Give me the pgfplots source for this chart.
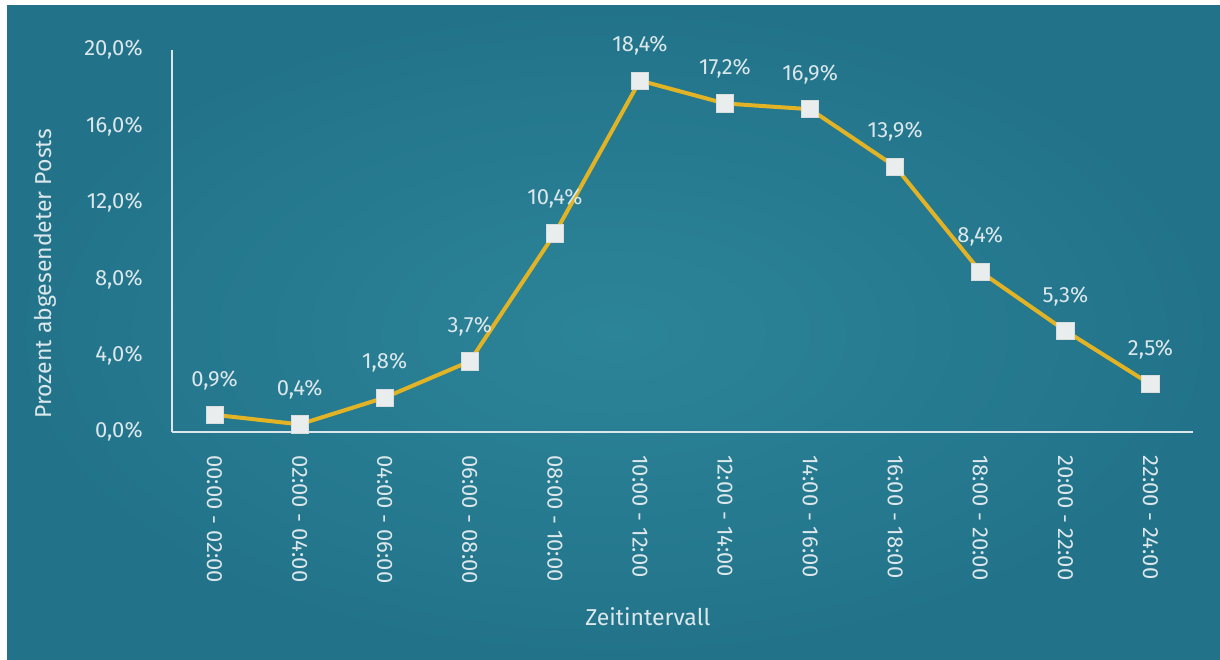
\documentclass[border=0pt]{standalone}
\usepackage{fontspec}
\setmainfont{Fira Sans}
\usepackage{pgfplots}
\pgfplotsset{compat=1.18}
\usepackage{pgfplotstable}

\definecolor{bgmid}{HTML}{2C8498}
\definecolor{bgedge}{HTML}{22738A}
\definecolor{linegold}{HTML}{E2B324}
\definecolor{txt}{HTML}{DCE7EB}
\definecolor{mk}{HTML}{EAEDED}

% Anteil abgesendeter Posts je 2-Stunden-Intervall
\pgfplotstableread{
x  y
0  0.9
1  0.4
2  1.8
3  3.7
4  10.4
5  18.4
6  17.2
7  16.9
8  13.9
9  8.4
10 5.3
11 2.5
}\posts

\begin{document}
\begin{tikzpicture}
% background: white strip top/left, teal panel
\fill[white] (0,0) rectangle (610pt,329.5pt);
\shade[inner color=bgmid, outer color=bgedge] (3.5pt,0) rectangle (610pt,326.5pt);
\useasboundingbox (0,0) rectangle (610pt,329.5pt);
\begin{axis}[
    at={(86pt,113.5pt)},
    anchor=south west,
    scale only axis,
    width=510.5pt,
    height=191pt,
    xmin=-0.5, xmax=11.5,
    ymin=0, ymax=20,
    clip=false,
    axis lines=left,
    axis line style={txt, line width=1pt, -},
    major tick style={draw=none},
    xtick={0,...,11},
    xticklabels={00:00 - 02:00, 02:00 - 04:00, 04:00 - 06:00, 06:00 - 08:00,
                 08:00 - 10:00, 10:00 - 12:00, 12:00 - 14:00, 14:00 - 16:00,
                 16:00 - 18:00, 18:00 - 20:00, 20:00 - 22:00, 22:00 - 24:00},
    xticklabel style={rotate=-90, anchor=west, txt, font=\fontsize{11}{13}\selectfont, xshift=6pt},
    ytick={0,4,8,12,16,20},
    yticklabels={{0,0\%}, {4,0\%}, {8,0\%}, {12,0\%}, {16,0\%}, {20,0\%}},
    yticklabel style={txt, font=\fontsize{11}{13}\selectfont, xshift=-9pt},
    xlabel={Zeitintervall},
    ylabel={Prozent abgesendeter Posts},
    xlabel style={at={(axis description cs:0.466,-0.484)}, anchor=center, txt, font=\fontsize{11.5}{13}\selectfont},
    ylabel style={at={(axis description cs:-0.1244,0.414)}, anchor=center, txt, font=\fontsize{11.5}{13}\selectfont},
    nodes near coords={\pgfmathprintnumber[fixed,fixed zerofill,precision=1,use comma,assume math mode=true]{\pgfplotspointmeta}\%},
    nodes near coords style={txt, font=\fontsize{11}{13}\selectfont, anchor=south, yshift=9pt},
]
\addplot[
    linegold,
    line width=2pt,
    mark=square*,
    mark size=4.3pt,
    mark options={fill=mk, draw=mk!85!gray, line width=0.4pt},
] table[x=x, y=y] {\posts};
\end{axis}
\end{tikzpicture}
\end{document}
